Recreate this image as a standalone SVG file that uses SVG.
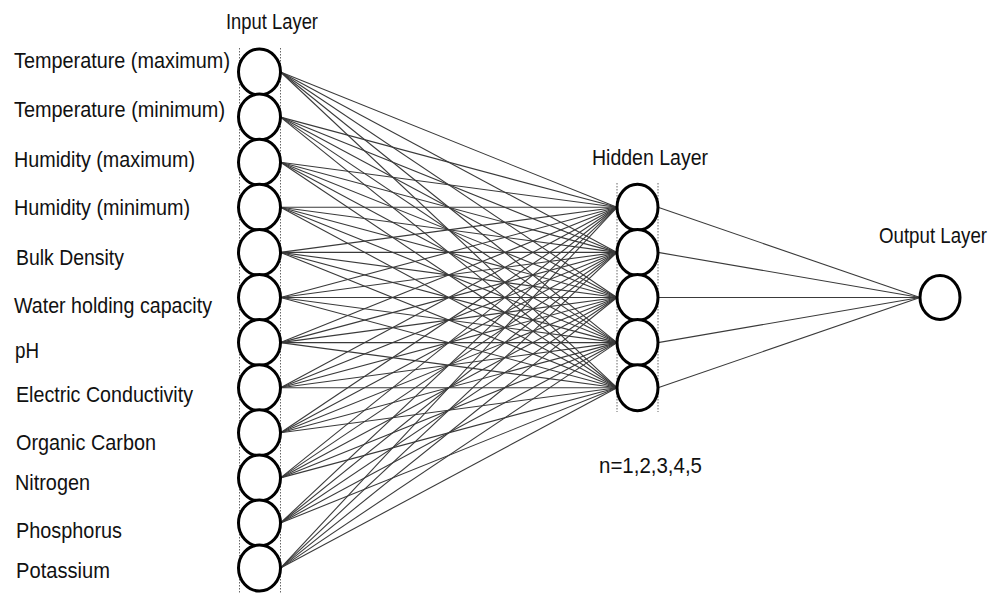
<svg xmlns="http://www.w3.org/2000/svg" width="998" height="593" viewBox="0 0 998 593">
  <style>
    .lbl { font-family: "Liberation Sans", Arial, sans-serif; font-size: 19.5px; fill: #111; }
    .node { fill: #fff; stroke: #000; stroke-width: 3; }
    .guide { stroke: #666; stroke-width: 1; stroke-dasharray: 1.5 1.5; fill: none; }
    .conn line { stroke: #3a3a3a; stroke-width: 1.1; }
  </style>
  <rect width="998" height="593" fill="#fff"/>

  <!-- layer titles -->
  <text class="lbl" transform="translate(226 29) scale(1 1.1)" textLength="92" lengthAdjust="spacingAndGlyphs">Input Layer</text>
  <text class="lbl" transform="translate(592 165) scale(1 1.1)" textLength="116" lengthAdjust="spacingAndGlyphs">Hidden Layer</text>
  <text class="lbl" transform="translate(879 243) scale(1 1.1)" textLength="108" lengthAdjust="spacingAndGlyphs">Output Layer</text>
  <text class="lbl" transform="translate(599 473) scale(1 1.1)" textLength="103" lengthAdjust="spacingAndGlyphs">n=1,2,3,4,5</text>

  <!-- guide lines bounding each column of neurons -->
  <g id="guides">
    <line class="guide" x1="239.5" y1="48" x2="239.5" y2="593"/>
    <line class="guide" x1="280.5" y1="48" x2="280.5" y2="593"/>
    <line class="guide" x1="617" y1="183" x2="617" y2="412"/>
    <line class="guide" x1="658" y1="183" x2="658" y2="412"/>
  </g>

  <!-- weights: input -> hidden (12 x 5), hidden -> output (5 x 1) -->
  <g id="connectors" class="conn">
    <line x1="280.5" y1="72" x2="617" y2="207.3"/><line x1="280.5" y1="72" x2="617" y2="252.4"/><line x1="280.5" y1="72" x2="617" y2="297.5"/><line x1="280.5" y1="72" x2="617" y2="342.6"/><line x1="280.5" y1="72" x2="617" y2="387.7"/>
    <line x1="280.5" y1="117.1" x2="617" y2="207.3"/><line x1="280.5" y1="117.1" x2="617" y2="252.4"/><line x1="280.5" y1="117.1" x2="617" y2="297.5"/><line x1="280.5" y1="117.1" x2="617" y2="342.6"/><line x1="280.5" y1="117.1" x2="617" y2="387.7"/>
    <line x1="280.5" y1="162.2" x2="617" y2="207.3"/><line x1="280.5" y1="162.2" x2="617" y2="252.4"/><line x1="280.5" y1="162.2" x2="617" y2="297.5"/><line x1="280.5" y1="162.2" x2="617" y2="342.6"/><line x1="280.5" y1="162.2" x2="617" y2="387.7"/>
    <line x1="280.5" y1="207.3" x2="617" y2="207.3"/><line x1="280.5" y1="207.3" x2="617" y2="252.4"/><line x1="280.5" y1="207.3" x2="617" y2="297.5"/><line x1="280.5" y1="207.3" x2="617" y2="342.6"/><line x1="280.5" y1="207.3" x2="617" y2="387.7"/>
    <line x1="280.5" y1="252.4" x2="617" y2="207.3"/><line x1="280.5" y1="252.4" x2="617" y2="252.4"/><line x1="280.5" y1="252.4" x2="617" y2="297.5"/><line x1="280.5" y1="252.4" x2="617" y2="342.6"/><line x1="280.5" y1="252.4" x2="617" y2="387.7"/>
    <line x1="280.5" y1="297.5" x2="617" y2="207.3"/><line x1="280.5" y1="297.5" x2="617" y2="252.4"/><line x1="280.5" y1="297.5" x2="617" y2="297.5"/><line x1="280.5" y1="297.5" x2="617" y2="342.6"/><line x1="280.5" y1="297.5" x2="617" y2="387.7"/>
    <line x1="280.5" y1="342.6" x2="617" y2="207.3"/><line x1="280.5" y1="342.6" x2="617" y2="252.4"/><line x1="280.5" y1="342.6" x2="617" y2="297.5"/><line x1="280.5" y1="342.6" x2="617" y2="342.6"/><line x1="280.5" y1="342.6" x2="617" y2="387.7"/>
    <line x1="280.5" y1="387.7" x2="617" y2="207.3"/><line x1="280.5" y1="387.7" x2="617" y2="252.4"/><line x1="280.5" y1="387.7" x2="617" y2="297.5"/><line x1="280.5" y1="387.7" x2="617" y2="342.6"/><line x1="280.5" y1="387.7" x2="617" y2="387.7"/>
    <line x1="280.5" y1="432.8" x2="617" y2="207.3"/><line x1="280.5" y1="432.8" x2="617" y2="252.4"/><line x1="280.5" y1="432.8" x2="617" y2="297.5"/><line x1="280.5" y1="432.8" x2="617" y2="342.6"/><line x1="280.5" y1="432.8" x2="617" y2="387.7"/>
    <line x1="280.5" y1="477.9" x2="617" y2="207.3"/><line x1="280.5" y1="477.9" x2="617" y2="252.4"/><line x1="280.5" y1="477.9" x2="617" y2="297.5"/><line x1="280.5" y1="477.9" x2="617" y2="342.6"/><line x1="280.5" y1="477.9" x2="617" y2="387.7"/>
    <line x1="280.5" y1="523" x2="617" y2="207.3"/><line x1="280.5" y1="523" x2="617" y2="252.4"/><line x1="280.5" y1="523" x2="617" y2="297.5"/><line x1="280.5" y1="523" x2="617" y2="342.6"/><line x1="280.5" y1="523" x2="617" y2="387.7"/>
    <line x1="280.5" y1="568.1" x2="617" y2="207.3"/><line x1="280.5" y1="568.1" x2="617" y2="252.4"/><line x1="280.5" y1="568.1" x2="617" y2="297.5"/><line x1="280.5" y1="568.1" x2="617" y2="342.6"/><line x1="280.5" y1="568.1" x2="617" y2="387.7"/>
    <line x1="658" y1="207.3" x2="920" y2="297.5"/><line x1="658" y1="252.4" x2="920" y2="297.5"/><line x1="658" y1="297.5" x2="920" y2="297.5"/><line x1="658" y1="342.6" x2="920" y2="297.5"/><line x1="658" y1="387.7" x2="920" y2="297.5"/>
  </g>

  <!-- input layer -->
  <g id="in-1"><ellipse class="node" cx="259.5" cy="72" rx="21" ry="23"/><text class="lbl" transform="translate(14 68) scale(1 1.1)" textLength="216" lengthAdjust="spacingAndGlyphs">Temperature (maximum)</text></g>
  <g id="in-2"><ellipse class="node" cx="259.5" cy="117.1" rx="21" ry="23"/><text class="lbl" transform="translate(14 117) scale(1 1.1)" textLength="211" lengthAdjust="spacingAndGlyphs">Temperature (minimum)</text></g>
  <g id="in-3"><ellipse class="node" cx="259.5" cy="162.2" rx="21" ry="23"/><text class="lbl" transform="translate(14 167) scale(1 1.1)" textLength="181" lengthAdjust="spacingAndGlyphs">Humidity (maximum)</text></g>
  <g id="in-4"><ellipse class="node" cx="259.5" cy="207.3" rx="21" ry="23"/><text class="lbl" transform="translate(14 215) scale(1 1.1)" textLength="176" lengthAdjust="spacingAndGlyphs">Humidity (minimum)</text></g>
  <g id="in-5"><ellipse class="node" cx="259.5" cy="252.4" rx="21" ry="23"/><text class="lbl" transform="translate(16 265) scale(1 1.1)" textLength="108" lengthAdjust="spacingAndGlyphs">Bulk Density</text></g>
  <g id="in-6"><ellipse class="node" cx="259.5" cy="297.5" rx="21" ry="23"/><text class="lbl" transform="translate(14 313) scale(1 1.1)" textLength="198" lengthAdjust="spacingAndGlyphs">Water holding capacity</text></g>
  <g id="in-7"><ellipse class="node" cx="259.5" cy="342.6" rx="21" ry="23"/><text class="lbl" transform="translate(15 358) scale(1 1.1)" textLength="24" lengthAdjust="spacingAndGlyphs">pH</text></g>
  <g id="in-8"><ellipse class="node" cx="259.5" cy="387.7" rx="21" ry="23"/><text class="lbl" transform="translate(16 402) scale(1 1.1)" textLength="177" lengthAdjust="spacingAndGlyphs">Electric Conductivity</text></g>
  <g id="in-9"><ellipse class="node" cx="259.5" cy="432.8" rx="21" ry="23"/><text class="lbl" transform="translate(16 450) scale(1 1.1)" textLength="140" lengthAdjust="spacingAndGlyphs">Organic Carbon</text></g>
  <g id="in-10"><ellipse class="node" cx="259.5" cy="477.9" rx="21" ry="23"/><text class="lbl" transform="translate(15 490) scale(1 1.1)" textLength="75" lengthAdjust="spacingAndGlyphs">Nitrogen</text></g>
  <g id="in-11"><ellipse class="node" cx="259.5" cy="523" rx="21" ry="23"/><text class="lbl" transform="translate(16 538) scale(1 1.1)" textLength="106" lengthAdjust="spacingAndGlyphs">Phosphorus</text></g>
  <g id="in-12"><ellipse class="node" cx="259.5" cy="568.1" rx="21" ry="23"/><text class="lbl" transform="translate(16 578) scale(1 1.1)" textLength="94" lengthAdjust="spacingAndGlyphs">Potassium</text></g>

  <!-- hidden layer -->
  <g id="hid-1"><ellipse class="node" cx="637.5" cy="207.3" rx="20.5" ry="23"/></g>
  <g id="hid-2"><ellipse class="node" cx="637.5" cy="252.4" rx="20.5" ry="23"/></g>
  <g id="hid-3"><ellipse class="node" cx="637.5" cy="297.5" rx="20.5" ry="23"/></g>
  <g id="hid-4"><ellipse class="node" cx="637.5" cy="342.6" rx="20.5" ry="23"/></g>
  <g id="hid-5"><ellipse class="node" cx="637.5" cy="387.7" rx="20.5" ry="23"/></g>

  <!-- output layer -->
  <g id="out-1"><ellipse class="node" cx="940" cy="297.5" rx="20" ry="22"/></g>
</svg>
